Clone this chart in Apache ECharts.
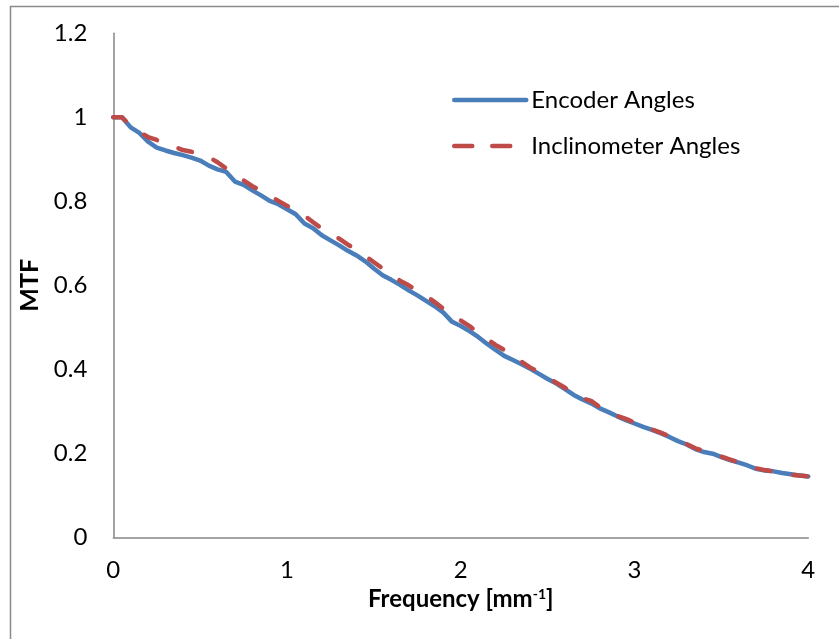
<!DOCTYPE html>
<html>
<head>
<meta charset="utf-8">
<script src="https://cdn.jsdelivr.net/npm/echarts@6/dist/echarts.min.js"></script>
<style>
html,body{margin:0;padding:0;background:#fff;}
#chart{width:839px;height:639px;}
</style>
</head>
<body>
<div id="chart"></div>
<script>
// Frequency samples (mm^-1)
const freq = [];
for (let i = 0; i <= 80; i++) freq.push(+(i * 0.05).toFixed(2));

const encoderAngles = [
  1.000, 1.000, 0.976, 0.963, 0.942, 0.928, 0.921, 0.915, 0.910, 0.904,
  0.897, 0.885, 0.876, 0.870, 0.847, 0.839, 0.826, 0.814, 0.801, 0.793,
  0.781, 0.769, 0.747, 0.736, 0.719, 0.707, 0.695, 0.682, 0.671, 0.657,
  0.640, 0.624, 0.613, 0.601, 0.588, 0.576, 0.563, 0.550, 0.535, 0.513,
  0.503, 0.491, 0.477, 0.461, 0.446, 0.432, 0.422, 0.412, 0.401, 0.389,
  0.377, 0.366, 0.353, 0.339, 0.328, 0.319, 0.307, 0.298, 0.288, 0.279,
  0.271, 0.263, 0.256, 0.248, 0.239, 0.229, 0.221, 0.210, 0.203, 0.199,
  0.191, 0.184, 0.178, 0.171, 0.163, 0.159, 0.157, 0.153, 0.150, 0.147,
  0.145
];

const inclinometerAngles = [
  1.000, 1.000, 0.980, 0.965, 0.953, 0.946, 0.938, 0.930, 0.922, 0.918,
  0.913, 0.905, 0.893, 0.878, 0.862, 0.850, 0.836, 0.825, 0.813, 0.801,
  0.789, 0.780, 0.766, 0.750, 0.735, 0.722, 0.711, 0.697, 0.684, 0.670,
  0.655, 0.640, 0.628, 0.611, 0.600, 0.587, 0.575, 0.560, 0.544, 0.526,
  0.516, 0.503, 0.487, 0.472, 0.458, 0.446, 0.431, 0.418, 0.404, 0.393,
  0.380, 0.368, 0.356, 0.341, 0.331, 0.325, 0.310, 0.299, 0.289, 0.282,
  0.273, 0.266, 0.257, 0.249, 0.241, 0.231, 0.222, 0.212, 0.205, 0.199,
  0.192, 0.185, 0.178, 0.172, 0.164, 0.160, 0.157, 0.152, 0.149, 0.147,
  0.145
];

const seriesNames = ['Encoder Angles', 'Inclinometer Angles'];
const xTicks = [0, 1, 2, 3, 4];
const yTicks = [0, 0.2, 0.4, 0.6, 0.8, 1, 1.2];

const FONT = 'Lato';
const BLUE = '#4a7ebb';
const RED = '#be4b48';
const chart = echarts.init(document.getElementById('chart'), null, {renderer: 'canvas'});

chart.setOption({
  animation: false,
  backgroundColor: '#ffffff',
  graphic: [{
    type: 'rect',
    shape: {x: 10.5, y: 6.5, width: 1200, height: 1200},
    style: {fill: 'none', stroke: '#8a8a8a', lineWidth: 1.5},
    silent: true,
    z: -1
  }],
  grid: {left: 113.3, right: 30.7, top: 33.3, bottom: 101.7, containLabel: false},
  legend: {
    orient: 'vertical',
    left: 452,
    top: 88,
    padding: 0,
    itemWidth: 72,
    itemHeight: 22,
    itemGap: 22,
    textStyle: {fontFamily: FONT, fontSize: 24, color: '#000', lineHeight: 22},
    data: [
      {name: seriesNames[0], itemStyle: {opacity: 0}, lineStyle: {color: BLUE, width: 4.5, type: 'solid', cap: 'round'}},
      {name: seriesNames[1], itemStyle: {opacity: 0}, lineStyle: {color: RED, width: 4.5, type: [18, 20], cap: 'round'}}
    ]
  },
  xAxis: {
    type: 'value',
    min: 0, max: 4, interval: 1,
    name: 'Frequency [mm{sup|-1}]',
    nameLocation: 'middle',
    nameGap: 48,
    nameTextStyle: {
      fontFamily: FONT, fontSize: 24, fontWeight: 'bold', color: '#000',
      rich: {sup: {fontFamily: FONT, fontSize: 14, fontWeight: 'bold', color: '#000', verticalAlign: 'top', padding: [0, 0, 10, 0]}}
    },
    axisLine: {show: true, onZero: false, lineStyle: {color: '#868686', width: 1.5}},
    axisTick: {show: false},
    splitLine: {show: false},
    axisLabel: {
      fontFamily: FONT, fontSize: 24, color: '#000', margin: 21,
      customValues: xTicks,
      formatter: v => String(v)
    }
  },
  yAxis: {
    type: 'value',
    min: 0, max: 1.2, interval: 0.2,
    name: 'MTF',
    nameLocation: 'middle',
    nameGap: 70,
    nameRotate: 90,
    nameTextStyle: {fontFamily: FONT, fontSize: 25, fontWeight: 'bold', color: '#000'},
    axisLine: {show: true, onZero: false, lineStyle: {color: '#868686', width: 1.5}},
    axisTick: {show: false},
    splitLine: {show: false},
    axisLabel: {
      fontFamily: FONT, fontSize: 24, color: '#000', margin: 26,
      customValues: yTicks,
      formatter: v => String(+v.toFixed(1))
    }
  },
  series: [
    {
      name: seriesNames[0],
      type: 'line',
      data: freq.map((f, i) => [f, encoderAngles[i]]),
      showSymbol: false,
      symbol: 'none',
      lineStyle: {color: BLUE, width: 4.5, cap: 'round', join: 'round'},
      itemStyle: {color: BLUE},
      z: 2
    },
    {
      name: seriesNames[1],
      type: 'line',
      data: freq.map((f, i) => [f, inclinometerAngles[i]]),
      showSymbol: false,
      symbol: 'none',
      lineStyle: {color: RED, width: 4.5, type: [14, 23], cap: 'round', join: 'round'},
      itemStyle: {color: RED},
      z: 3
    }
  ]
});
</script>
</body>
</html>
